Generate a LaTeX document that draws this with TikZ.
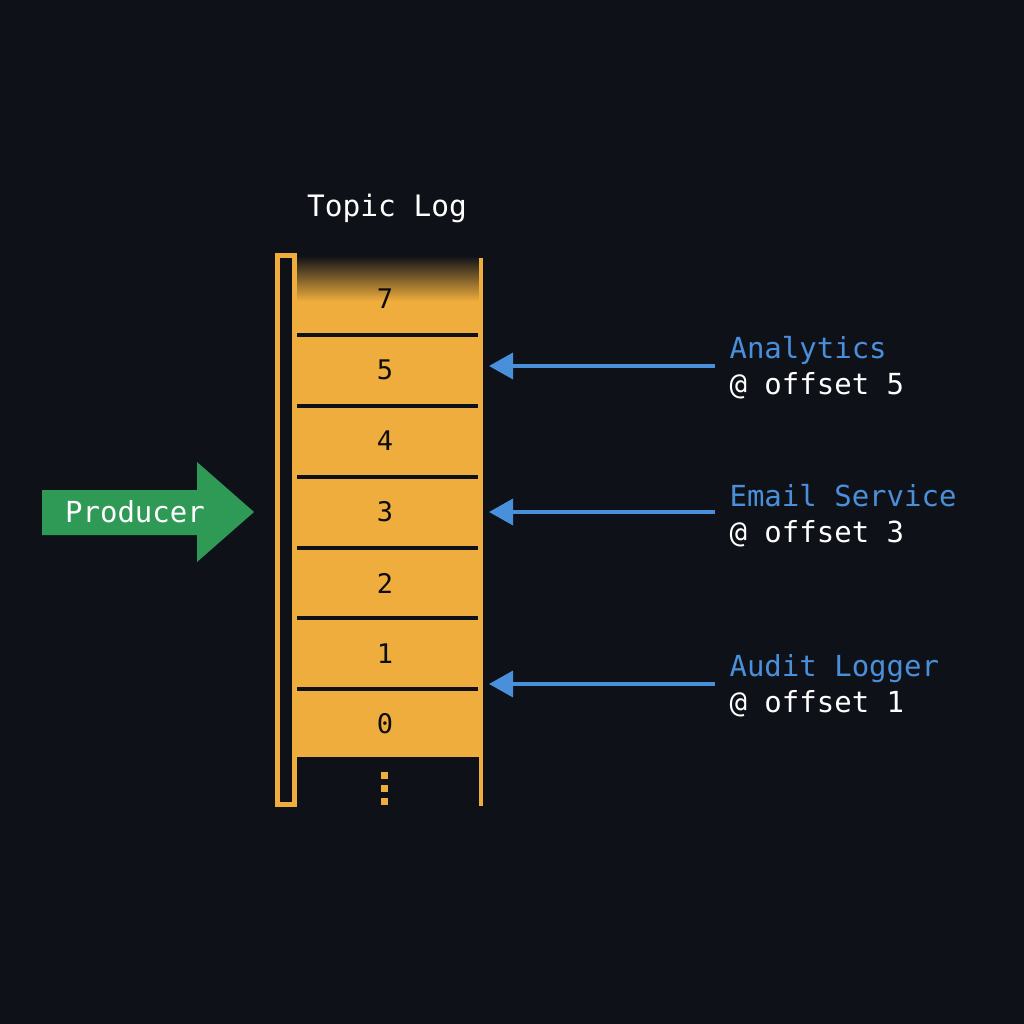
\documentclass[tikz,border=0pt]{standalone}
\usepackage{fontspec}
\setmonofont{DejaVu Sans Mono}
\usetikzlibrary{arrows.meta}
\definecolor{bg}{HTML}{0F1119}
\definecolor{org}{HTML}{EEAD3C}
\definecolor{blu}{HTML}{4A8FD9}
\definecolor{grn}{HTML}{2E9A55}
\tikzset{x=1pt,y=-1pt,
 num/.style={font=\ttfamily\fontsize{27}{27}\selectfont,text=black!95},
 lbl/.style={font=\ttfamily\fontsize{29}{36}\selectfont,anchor=west,align=left},
 sep/.style={line width=4pt,draw=bg},
 cons/.style={draw=blu,line width=3.5pt,-{Triangle[length=24pt,width=26pt]}}}
\begin{document}
\begin{tikzpicture}
\fill[bg] (0,0) rectangle (1024,1024);
\useasboundingbox (0,0) rectangle (1024,1024);
\node[font=\ttfamily\fontsize{29.5}{30}\selectfont,text=white] (title) at (387,208) {Topic Log};
% log body
\fill[org] (297,300) rectangle (481,757);
\shade[top color=bg,bottom color=org] (297,256) rectangle (481,301);
\draw[org,line width=5pt] (277.5,255.5) rectangle (294.5,804.5);
\draw[org,line width=4pt] (481,258) -- (481,806);
\foreach \y in {335,406,477,548,618,689} \draw[sep] (297,\y) -- (478,\y);
\foreach \n/\y in {7/299,5/370,4/441,3/512,2/583,1/654,0/724} \node[num] (c\n) at (385,\y) {\n};
\foreach \y in {772,785,798} \fill[org] (381,\y) rectangle (388,\y+7);
\coordinate (t5) at (489,366);
\coordinate (t3) at (489,512);
\coordinate (t1) at (489,684);
% consumers
\node[lbl] (a) at (726,368) {\textcolor{blu}{Analytics}\\\textcolor{white}{@ offset 5}};
\node[lbl] (e) at (726,516) {\textcolor{blu}{Email Service}\\\textcolor{white}{@ offset 3}};
\node[lbl] (l) at (726,686) {\textcolor{blu}{Audit Logger}\\\textcolor{white}{@ offset 1}};
\coordinate (s5) at (715,366);
\coordinate (s3) at (715,512);
\coordinate (s1) at (715,684);
\draw[cons] (s5) -- (t5);
\draw[cons] (s3) -- (t3);
\draw[cons] (s1) -- (t1);
% producer
\fill[grn] (42,490) -- (197,490) -- (197,462) -- (254,512) -- (197,562) -- (197,535) -- (42,535) -- cycle;
\node[font=\ttfamily\fontsize{29}{30}\selectfont,text=white] (p) at (135,512) {Producer};
\end{tikzpicture}
\end{document}
